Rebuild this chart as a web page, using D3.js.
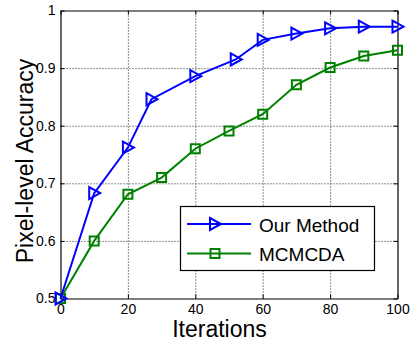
<!DOCTYPE html>
<html>
<head>
<meta charset="utf-8">
<script src="https://cdn.jsdelivr.net/npm/d3@7"></script>
<style>
  html, body { margin: 0; padding: 0; background: #fff; }
  svg { display: block; font-family: "Liberation Sans", Arial, Helvetica, sans-serif; }
</style>
</head>
<body>
<svg id="chart" width="410" height="341"></svg>
<script>
// ---- data ----
const ourIters = [0, 10, 20, 27, 40, 52, 60, 70, 80, 90, 100];
const ourAcc   = [0.5, 0.683, 0.762, 0.846, 0.886, 0.915, 0.949, 0.960, 0.969, 0.972, 0.972];
const mcIters  = [0, 10, 20, 30, 40, 50, 60, 70, 80, 90, 100];
const mcAcc    = [0.5, 0.60, 0.681, 0.710, 0.760, 0.791, 0.820, 0.871, 0.901, 0.921, 0.931];
const seriesNames = ["Our Method", "MCMCDA"];
const xTicks = [0, 20, 40, 60, 80, 100];
const yTicks = [0.5, 0.6, 0.7, 0.8, 0.9, 1];
const xLabel = "Iterations";
const yLabel = "Pixel-level Accuracy";

// ---- layout ----
const svg = d3.select("#chart");
const L = 60.5, R = 397.5, T = 10.5, B = 298.5;
const x = d3.scaleLinear().domain([0, 100]).range([L, R]);
const y = d3.scaleLinear().domain([0.5, 1]).range([B, T]);
const W = R - L, H = B - T;

// grid
const gx = svg.append("g").attr("transform", `translate(0,${B})`)
  .call(d3.axisBottom(x).tickValues(xTicks.slice(1, -1)).tickSize(-H).tickFormat(""));
const gy = svg.append("g").attr("transform", `translate(${L},0)`)
  .call(d3.axisLeft(y).tickValues(yTicks.slice(1, -1)).tickSize(-W).tickFormat(""));
[gx, gy].forEach(g => {
  g.select(".domain").remove();
  g.selectAll("line").attr("stroke", "#222").attr("stroke-width", 1).attr("stroke-dasharray", "1,2");
});

// axes with inward ticks
function styleAxis(g) {
  g.select(".domain").attr("stroke", "#000").attr("stroke-width", 1.2);
  g.selectAll(".tick line").attr("stroke", "#000").attr("stroke-width", 1);
  g.selectAll("text").attr("fill", "#000").style("font-size", "14px")
    .style("font-family", "'Liberation Sans', Arial, sans-serif");
}
const fmtY = d => d === 1 ? "1" : d3.format(".1f")(d);
svg.append("g").attr("transform", `translate(0,${B})`)
  .call(d3.axisBottom(x).tickValues(xTicks).tickSize(-4).tickSizeOuter(0).tickPadding(6))
  .call(styleAxis);
svg.append("g").attr("transform", `translate(${L},0)`)
  .call(d3.axisLeft(y).tickValues(yTicks).tickFormat(fmtY).tickSize(-4).tickSizeOuter(0).tickPadding(5))
  .call(styleAxis);
svg.append("g").attr("transform", `translate(0,${T})`)
  .call(d3.axisTop(x).tickValues(xTicks).tickSize(-4).tickSizeOuter(0).tickFormat(""))
  .call(styleAxis);
svg.append("g").attr("transform", `translate(${R},0)`)
  .call(d3.axisRight(y).tickValues(yTicks).tickSize(-4).tickSizeOuter(0).tickFormat(""))
  .call(styleAxis);

// series
const triPath = "M-5,-6L6,0L-5,6Z";
const sqPath = "M-4.5,-4.5H4.5V4.5H-4.5Z";
const series = [
  { name: seriesNames[0], xs: ourIters, ys: ourAcc, color: "#0000ff", marker: triPath },
  { name: seriesNames[1], xs: mcIters,  ys: mcAcc,  color: "#008000", marker: sqPath }
];
const line = d3.line().x(d => x(d[0])).y(d => y(d[1]));
series.slice().reverse().forEach(s => {
  const pts = s.xs.map((v, i) => [v, s.ys[i]]);
  svg.append("path").datum(pts).attr("d", line)
    .attr("fill", "none").attr("stroke", s.color).attr("stroke-width", 2);
  svg.append("g").selectAll("path").data(pts).join("path")
    .attr("transform", d => `translate(${x(d[0])},${y(d[1])})`)
    .attr("d", s.marker).attr("fill", "none").attr("stroke", s.color).attr("stroke-width", 2);
});

// legend
const lg = svg.append("g");
lg.append("rect").attr("x", 180.5).attr("y", 206.5).attr("width", 194).attr("height", 64)
  .attr("fill", "#fff").attr("stroke", "#000").attr("stroke-width", 1.2);
series.forEach((s, i) => {
  const ly = 224 + i * 29.5;
  lg.append("line").attr("x1", 187).attr("x2", 251).attr("y1", ly).attr("y2", ly)
    .attr("stroke", s.color).attr("stroke-width", 2);
  lg.append("path").attr("transform", `translate(215,${ly})`).attr("d", s.marker)
    .attr("fill", "none").attr("stroke", s.color).attr("stroke-width", 2);
  lg.append("text").attr("x", 259).attr("y", ly + 7.5).text(s.name)
    .style("font-size", "19px").attr("fill", "#000");
});

// axis labels
svg.append("text").attr("x", 219.5).attr("y", 337).attr("text-anchor", "middle")
  .style("font-size", "23px").attr("fill", "#000").text(xLabel);
svg.append("text").attr("transform", "translate(33,161) rotate(-90)").attr("text-anchor", "middle")
  .style("font-size", "23px").attr("fill", "#000").text(yLabel);
</script>
</body>
</html>
